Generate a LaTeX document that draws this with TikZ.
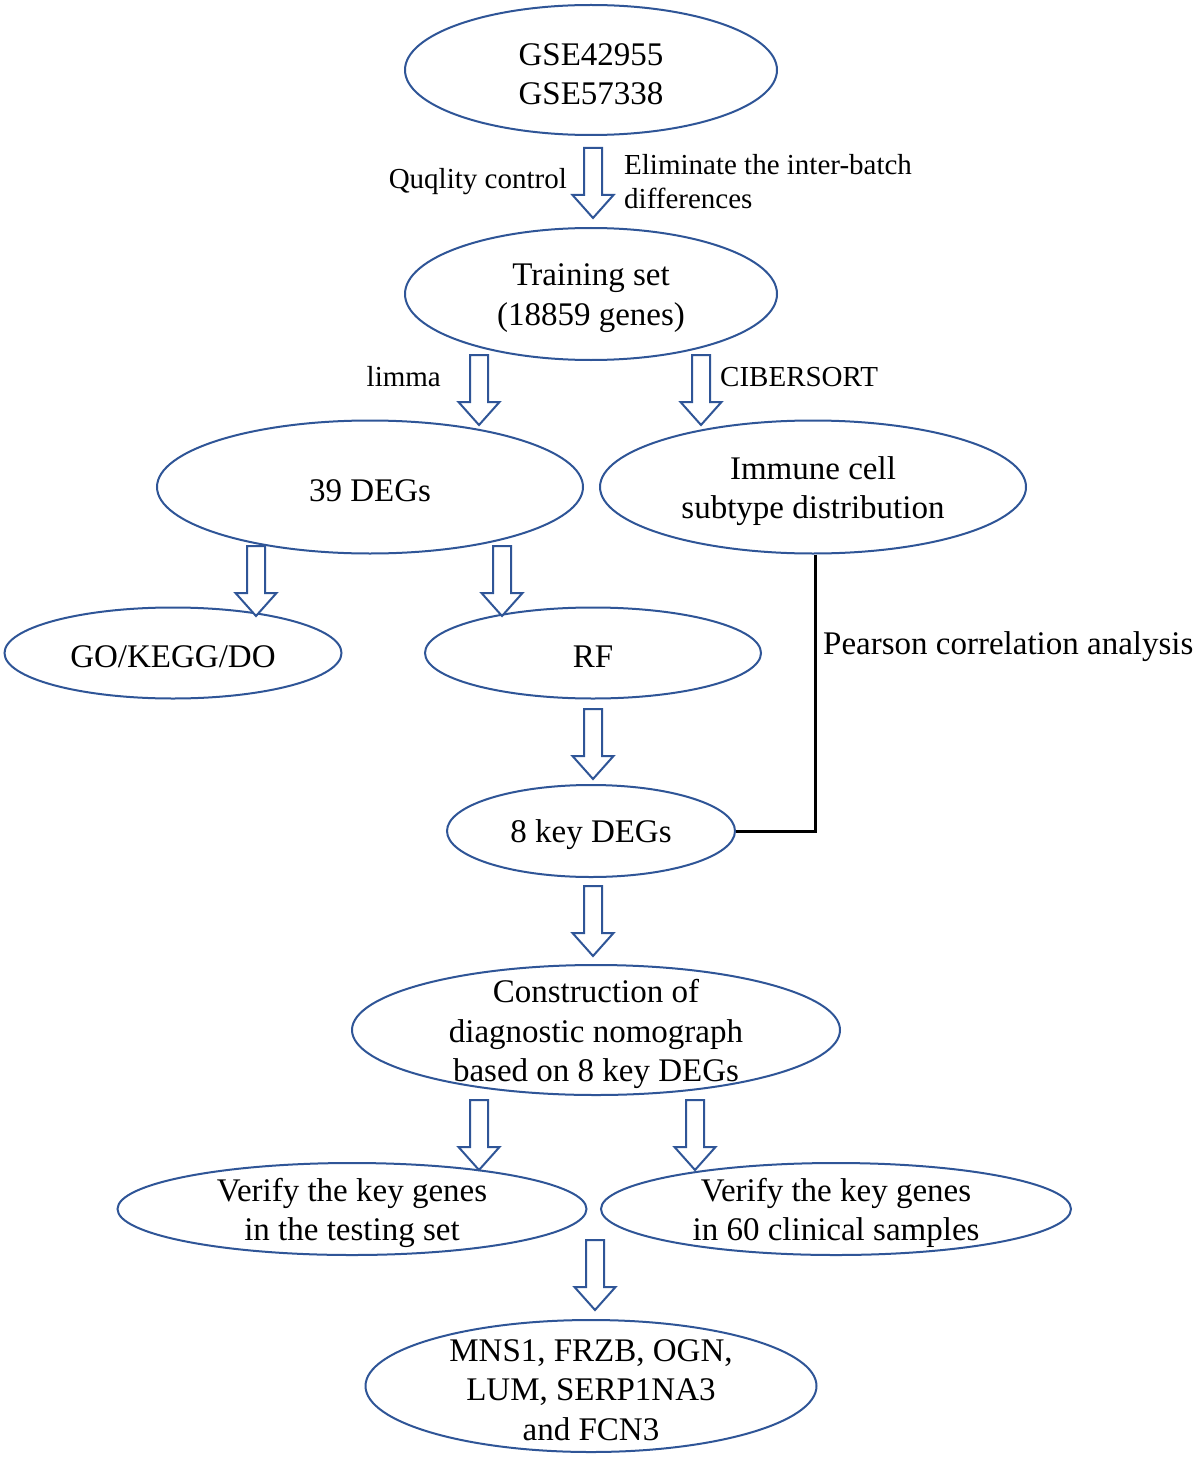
\documentclass[tikz,border=0pt]{standalone}
\usepackage{fontspec}
\setmainfont{Liberation Serif}
\usetikzlibrary{shapes.geometric}
\definecolor{ellblue}{RGB}{47,85,151}
\begin{document}
\begin{tikzpicture}[x=1pt,y=-1pt,
  ell/.style={ellipse, draw=ellblue, line width=2pt, inner sep=0pt},
  lbl/.style={font=\fontsize{33}{39.5}\selectfont, align=center, inner sep=0pt, yshift=-4pt},
  small/.style={font=\fontsize{29}{34}\selectfont, inner sep=0pt},
  big/.style={font=\fontsize{33}{39.5}\selectfont, inner sep=0pt},
  pics/barrow/.style={code={
    \draw[ellblue, line width=2pt, fill=white, line join=miter]
      (-9,0) -- (9,0) -- (9,47) -- (20.5,47) -- (0,70) -- (-20.5,47) -- (-9,47) -- cycle;}}
]
\useasboundingbox (0,0) rectangle (1200,1471);
\fill[white] (0,0) rectangle (1200,1471);

% ellipses
\node[ell, minimum width=372pt, minimum height=130pt, label={[lbl]center:GSE42955\\GSE57338}] (gse) at (591,70) {};
\node[ell, minimum width=372pt, minimum height=132pt, label={[lbl]center:Training set\\(18859 genes)}] (train) at (591,294) {};
\node[ell, minimum width=426pt, minimum height=133pt, label={[lbl]center:39 DEGs}] (degs) at (370,487) {};
\node[ell, minimum width=426pt, minimum height=133pt, label={[lbl]center:Immune cell\\subtype distribution}] (imm) at (813,487) {};
\node[ell, minimum width=337pt, minimum height=91pt, label={[lbl]center:GO/KEGG/DO}] (go) at (173,653) {};
\node[ell, minimum width=336pt, minimum height=91pt, label={[lbl]center:RF}] (rf) at (593,653) {};
\node[ell, minimum width=288pt, minimum height=92pt, label={[lbl]center:8 key DEGs}] (key) at (591,831) {};
\node[ell, minimum width=488pt, minimum height=130pt, label={[lbl]center:Construction of\\diagnostic nomograph\\based on 8 key DEGs}] (cons) at (596,1030) {};
\node[ell, minimum width=469pt, minimum height=92pt, label={[lbl]center:Verify the key genes\\in the testing set}] (vt) at (352,1209) {};
\node[ell, minimum width=470pt, minimum height=92pt, label={[lbl]center:Verify the key genes\\in 60 clinical samples}] (vc) at (836,1209) {};
\node[ell, minimum width=451pt, minimum height=132pt, label={[lbl]center:MNS1, FRZB, OGN,\\LUM, SERP1NA3\\and FCN3}] (mns) at (591,1386) {};

% block arrows
\pic at (593,148) {barrow};
\pic at (479,355) {barrow};
\pic at (701,355) {barrow};
\pic at (256,546) {barrow};
\pic at (502,546) {barrow};
\pic at (593,709) {barrow};
\pic at (593,886) {barrow};
\pic at (479,1100) {barrow};
\pic at (695,1100) {barrow};
\pic at (595,1240) {barrow};

% arrow labels
\node[small, anchor=east] (qc) at (567,182) {Quqlity control};
\node[small, anchor=west, align=left] (elim) at (624,182) {Eliminate the inter-batch\\differences};
\node[small, anchor=east] (limma) at (441,377) {limma};
\node[small, anchor=west] (cib) at (720,377) {CIBERSORT};

% Pearson connector
\draw[black, line width=3pt] ([xshift=2pt]imm.south) |- (key.east);
\node[big, anchor=west] (pear) at (823,647) {Pearson correlation analysis};
\end{tikzpicture}
\end{document}
